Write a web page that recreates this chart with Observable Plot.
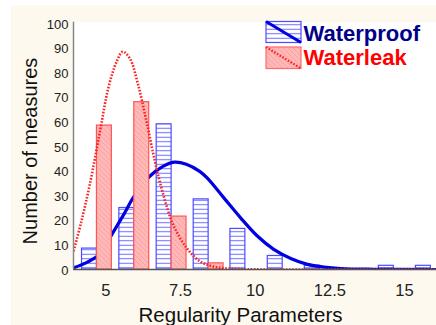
<!DOCTYPE html>
<html><head><meta charset="utf-8">
<script src="https://cdn.jsdelivr.net/npm/d3@7"></script>
<script src="https://cdn.jsdelivr.net/npm/@observablehq/plot@0.6"></script>
<style>
html,body{margin:0;padding:0;background:#fff;}
#wrap{position:relative;width:436px;height:325px;overflow:hidden;}
#cream{position:absolute;left:11px;top:5px;right:0;bottom:0;background:#fdf9ef;}
#chart{position:absolute;left:0;top:0;}
</style></head><body>
<div id="wrap"><div id="cream"></div><div id="chart"></div></div>
<script>
// ---- data ----
const xTicks = [5, 7.5, 10, 12.5, 15];
const yTicks = [0, 10, 20, 30, 40, 50, 60, 70, 80, 90, 100];
const seriesNames = ["Waterproof", "Waterleak"];
const xLabel = "Regularity Parameters";
const yLabel = "Number of measures";

const waterproofBins   = [4.45, 5.70, 6.95, 8.19, 9.42, 10.67, 11.91, 13.15, 14.39, 15.63];
const waterproofCounts = [8.5, 25, 59, 28.5, 16.5, 5.5, 1.5, 0, 1.5, 1.5];
const waterleakBins    = [4.95, 6.20, 7.45, 8.69];
const waterleakCounts  = [58.5, 68, 21.5, 2.5];

const waterproofFitX = [3.92, 4.35, 4.8, 5.2, 5.6, 5.91, 6.47, 6.91, 7.28, 7.69, 8.14, 8.39, 8.95, 9.51, 10.07, 10.62, 11.19, 11.75, 12.3, 12.86, 13.97, 16.07];
const waterproofFitY = [0.7, 2.8, 6.2, 14.3, 22.4, 29.1, 37.9, 41.9, 43.6, 42.8, 39.9, 37.2, 29.1, 21, 13.6, 8.2, 4.5, 2.1, 1.0, 0.4, 0.1, 0];
const waterleakFitX = [3.92, 4.18, 4.46, 4.8, 5.08, 5.36, 5.56, 5.8, 6.08, 6.36, 6.64, 6.92, 7.25, 7.7, 8.14, 8.6, 9.2, 10, 16.07];
const waterleakFitY = [7.5, 19.6, 34.5, 56, 73.7, 84.5, 88.5, 85.8, 75, 60.2, 44, 30.5, 18.3, 8.8, 3.4, 1.2, 0.3, 0.05, 0];

const xDomain = [3.915, 16.07];
const yDomain = [0, 100.5];

// ---- tables built from the arrays ----
const barW = 0.5;
const proofBars = waterproofBins.map((x, i) => ({x, n: waterproofCounts[i]})).filter(d => d.n > 0);
const leakBars = waterleakBins.map((x, i) => ({x, n: waterleakCounts[i]})).filter(d => d.n > 0);
const proofFit = waterproofFitX.map((x, i) => ({x, y: waterproofFitY[i]}));
const leakFit = waterleakFitX.map((x, i) => ({x, y: waterleakFitY[i]}));

const FONT = "'Liberation Sans', Arial, Helvetica, sans-serif";

const chart = Plot.plot({
  width: 436, height: 325,
  marginLeft: 73, marginRight: 0, marginTop: 21.7, marginBottom: 56,
  x: {domain: xDomain, label: null},
  y: {domain: yDomain, label: null},
  style: {background: "transparent", fontFamily: FONT, overflow: "visible"},
  marks: [
    Plot.frame({fill: "white", stroke: "none"}),
    Plot.rect(proofBars, {x1: d => d.x - barW / 2, x2: d => d.x + barW / 2, y1: 0, y2: "n",
      fill: "url(#hatchBlue)", stroke: "#4b4bff", strokeWidth: 1.2}),
    Plot.line(proofFit, {x: "x", y: "y", stroke: "#0000e0", strokeWidth: 3.2, curve: "catmull-rom", clip: true}),
    Plot.rect(leakBars, {x1: d => d.x - barW / 2, x2: d => d.x + barW / 2, y1: 0, y2: "n",
      fill: "url(#hatchRed)", stroke: "#ff5555", strokeWidth: 1.2}),
    Plot.line(leakFit, {x: "x", y: "y", stroke: "#ff2020", strokeWidth: 2.6, strokeDasharray: "1.6,1.6",
      strokeLinecap: "butt", curve: "catmull-rom", clip: true}),
    Plot.ruleY([0], {stroke: "#555", strokeWidth: 1.5}),
    Plot.ruleX([xDomain[0]], {stroke: "#888", strokeWidth: 1.5}),
    Plot.axisY({ticks: yTicks, tickSize: 0, tickPadding: 5, fontSize: 13, dy: 1, color: "#222", label: null}),
    Plot.axisX({ticks: xTicks, tickSize: 0, tickPadding: 15, fontSize: 16.5, color: "#222", label: null,
      tickFormat: d => String(d)}),
    Plot.text([yLabel], {text: d => d, frameAnchor: "left", rotate: -90, dx: -36.3, dy: 5.2,
      lineAnchor: "bottom", textAnchor: "middle", fontSize: 20, fill: "#111"}),
    Plot.text([xLabel], {text: d => d, frameAnchor: "bottom", dx: -14.5, dy: 52.7,
      lineAnchor: "bottom", textAnchor: "middle", fontSize: 20.5, fill: "#111"})
  ]
});

document.getElementById("chart").appendChild(chart);

// ---- patterns and legend ----
const svg = d3.select(chart);
const defs = svg.insert("defs", ":first-child");
const pb = defs.append("pattern").attr("id", "hatchBlue").attr("patternUnits", "userSpaceOnUse")
  .attr("width", 8).attr("height", 4.5);
pb.append("rect").attr("width", 8).attr("height", 4.5).attr("fill", "white");
pb.append("line").attr("x1", 0).attr("x2", 8).attr("y1", 2.25).attr("y2", 2.25)
  .attr("stroke", "#6a6aff").attr("stroke-width", 1);
const pr = defs.append("pattern").attr("id", "hatchRed").attr("patternUnits", "userSpaceOnUse")
  .attr("width", 5).attr("height", 5);
pr.append("rect").attr("width", 5).attr("height", 5).attr("fill", "#ffb8b8");
pr.append("path").attr("d", "M0,0L5,5M-1,4L1,6M4,-1L6,1")
  .attr("stroke", "#ffa0a0").attr("stroke-width", 1);

const lg = svg.append("g").attr("font-family", FONT).attr("font-weight", "bold")
  .attr("font-size", 22).attr("text-anchor", "start");
// Waterproof
lg.append("rect").attr("x", 266).attr("y", 21.5).attr("width", 35).attr("height", 21)
  .attr("fill", "url(#hatchBlue)").attr("stroke", "#4b4bff").attr("stroke-width", 1.2);
lg.append("line").attr("x1", 266).attr("y1", 21.5).attr("x2", 301).attr("y2", 42.5)
  .attr("stroke", "#0000e0").attr("stroke-width", 3);
lg.append("text").attr("x", 303.5).attr("y", 40.5).attr("fill", "#00008b").text(seriesNames[0]);
// Waterleak
lg.append("rect").attr("x", 266).attr("y", 47).attr("width", 35).attr("height", 21.5)
  .attr("fill", "url(#hatchRed)").attr("stroke", "#ff6a6a").attr("stroke-width", 1.2);
lg.append("line").attr("x1", 266).attr("y1", 47).attr("x2", 301).attr("y2", 68.5)
  .attr("stroke", "#ff2020").attr("stroke-width", 2.4).attr("stroke-dasharray", "1.6,1.6");
lg.append("text").attr("x", 303.5).attr("y", 64.5).attr("fill", "#ff0000").text(seriesNames[1]);
</script>
</body></html>
